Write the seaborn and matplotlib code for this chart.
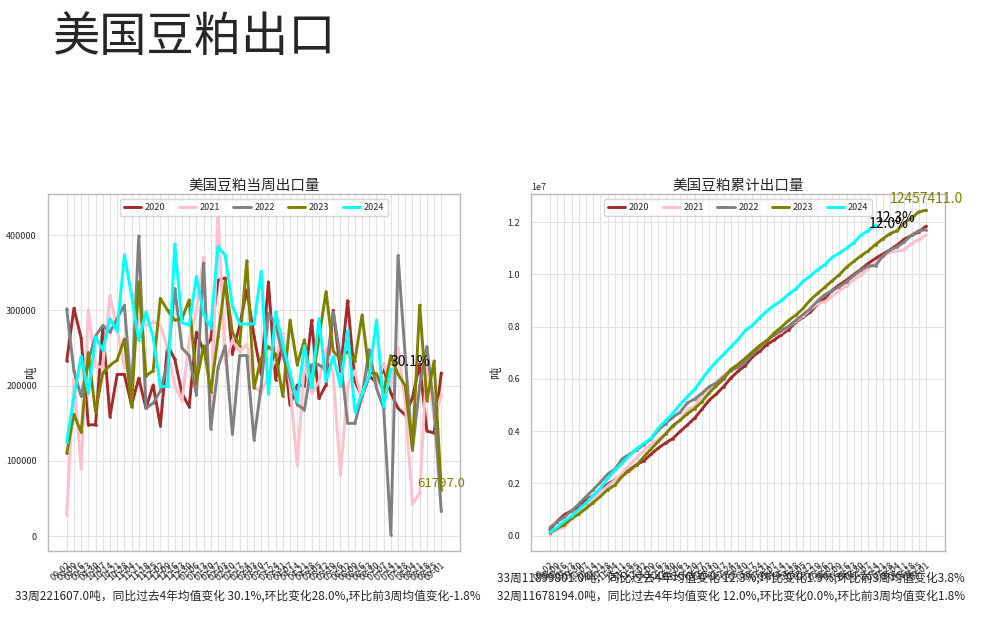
import matplotlib
matplotlib.use("Agg")
import numpy as np
import pandas as pd
import matplotlib.pyplot as plt
import seaborn as sns

# ---------------- data ----------------
week_labels = ["09-02", "09-09", "09-16", "09-23", "09-30", "10-07", "10-14", "10-21", "10-28",
               "11-04", "11-11", "11-18", "11-25", "12-02", "12-09", "12-16", "12-23", "12-30",
               "01-06", "01-13", "01-20", "01-27", "02-03", "02-10", "02-17", "02-24", "03-03",
               "03-10", "03-17", "03-24", "03-31", "04-07", "04-14", "04-21", "04-28", "05-05",
               "05-12", "05-19", "05-26", "06-02", "06-09", "06-16", "06-23", "06-30", "07-07",
               "07-14", "07-21", "07-28", "08-04", "08-11", "08-18", "08-25", "09-01"]

years = ["2020", "2021", "2022", "2023", "2024"]
colors = ["#A52A2A", "#FFC0CB", "#808080", "#808000", "#00FFFF"]

w2020 = [233000, 303000, 263000, 148000, 148000, 278000, 159000, 215000, 215000, 174000,
         210000, 170000, 201000, 147000, 254000, 235000, 190000, 172000, 271000, 246000,
         262000, 340000, 343000, 242000, 280000, 327000, 266000, 215000, 338000, 208000,
         261000, 174000, 201000, 200000, 287000, 183000, 201000, 300000, 219000, 313000,
         206000, 185000, 213000, 204000, 222000, 190000, 170000, 161000, 184000, 229000,
         140000, 137000, 217000]
w2021 = [28000, 210000, 90000, 300000, 225000, 225000, 320000, 275000, 225000, 220000,
         290000, 280000, 285000, 280000, 250000, 200000, 180000, 260000, 300000, 371000,
         143000, 433000, 230000, 260000, 245000, 255000, 200000, 190000, 215000, 235000,
         270000, 200000, 94000, 230000, 190000, 205000, 250000, 215000, 81000, 200000,
         220000, 180000, 240000, 200000, 230000, 200000, 250000, 175000, 43000, 57000,
         230000, 155000, 188000]
w2022 = [302000, 219000, 186000, 233000, 266000, 280000, 271000, 289000, 307000, 188000,
         399000, 170000, 177000, 193000, 230000, 329000, 250000, 240000, 188000, 363000,
         143000, 224000, 253000, 136000, 240000, 240000, 128000, 200000, 296000, 282000,
         240000, 210000, 175000, 168000, 228000, 228000, 221000, 298000, 237000, 150000,
         150000, 186000, 248000, 197000, 170000, 2000, 373000, 238000, 114000, 200000,
         252000, 170000, 33000]
w2023 = [110000, 162000, 138000, 244000, 165000, 217000, 227000, 234000, 262000, 172000,
         338000, 213000, 220000, 316000, 300000, 287000, 289000, 314000, 204000, 253000,
         192000, 265000, 339000, 271000, 253000, 366000, 197000, 237000, 252000, 242000,
         186000, 287000, 228000, 261000, 198000, 262000, 325000, 246000, 235000, 245614,
         233000, 294000, 217000, 216000, 192000, 240000, 215000, 200000, 116000, 307000,
         180000, 233000, 61797]
w2024 = [125000, 185000, 239000, 190000, 265000, 247000, 289000, 272000, 374000, 320000,
         260000, 298000, 264000, 199000, 199000, 388000, 284000, 280000, 345000, 295000,
         277000, 385000, 373000, 306000, 282000, 282000, 282000, 352000, 189000, 298000,
         255000, 217000, 179000, 253000, 197000, 289000, 206000, 239000, 199000, 273000,
         165000, 190000, 213000, 287000, 172000, 221607]

weekly_note = "33周221607.0吨，同比过去4年均值变化 30.1%,环比变化28.0%,环比前3周均值变化-1.8%"
cum_note = ("33周11899801.0吨，同比过去4年均值变化 12.3%,环比变化1.9%,环比前3周均值变化3.8%\n"
            "32周11678194.0吨，同比过去4年均值变化 12.0%,环比变化0.0%,环比前3周均值变化1.8%")

# ---------------- frame ----------------
series = {"2020": w2020, "2021": w2021, "2022": w2022, "2023": w2023, "2024": w2024}
rows = []
for y in years:
    for i, v in enumerate(series[y]):
        rows.append({"year": y, "idx": i, "week": week_labels[i], "weekly": v})
df = pd.DataFrame(rows)
df["cum"] = df.groupby("year")["weekly"].cumsum()

sns.set_theme(style="whitegrid")
plt.rcParams["font.family"] = ["Noto Sans CJK SC", "DejaVu Sans"]
plt.rcParams["axes.unicode_minus"] = False

W, H = 982, 626
fig = plt.figure(figsize=(W / 100, H / 100), dpi=100)
ax1 = fig.add_axes([48 / W, 1 - 551 / H, 412 / W, 357 / H])
ax2 = fig.add_axes([531 / W, 1 - 551 / H, 414 / W, 357 / H])
palette = dict(zip(years, colors))

for ax, col, title, lx in [(ax1, "weekly", "美国豆粕当周出口量", -0.025),
                           (ax2, "cum", "美国豆粕累计出口量", -0.068)]:
    sns.lineplot(data=df, x="idx", y=col, hue="year", hue_order=years, palette=palette,
                 ax=ax, linewidth=2.1, marker=".", markersize=4, markeredgewidth=0,
                 errorbar=None, legend=True)
    ax.set_xticks(range(len(week_labels)))
    ax.set_xticklabels(week_labels, rotation=40, ha="right", fontsize=6.5,
                       rotation_mode="anchor")
    ax.tick_params(axis="x", pad=1)
    ax.tick_params(axis="y", labelsize=6.5, pad=2)
    ax.set_xlabel("")
    ax.set_ylabel("吨", fontsize=9)
    ax.yaxis.set_label_coords(lx, 0.5)
    ax.set_title(title, fontsize=10.5, pad=3)
    ax.grid(True, color="#e3e3e3", linewidth=0.8)
    for s in ax.spines.values():
        s.set_color("#b8b8b8")
        s.set_linewidth(1.0)
    h, l = ax.get_legend_handles_labels()
    ax.legend(h, l, loc="upper center", ncol=5, fontsize=6.5, frameon=True,
              handlelength=1.9, columnspacing=1.5, borderaxespad=0.6, handletextpad=0.4)

ax2.yaxis.get_offset_text().set_fontsize(6.5)

# annotations
n24 = len(w2024) - 1
n23 = len(w2023) - 1
ax1.text(n24, w2024[n24], "30.1%", ha="left", va="bottom", fontsize=10, color="black")
ax1.text(n23, w2023[n23], f"{w2023[n23]:.1f}", ha="center", va="bottom", fontsize=9.5,
         color="#808000")
c24 = df[df.year == "2024"]["cum"].tolist()
c23 = df[df.year == "2023"]["cum"].tolist()
ax2.text(n24 - 1, c24[n24 - 1], "12.0%", ha="left", va="bottom", fontsize=10, color="black")
ax2.text(n24, c24[n24], "12.3%", ha="left", va="bottom", fontsize=10, color="black")
ax2.annotate(f"{c23[n23]:.1f}", (n23, c23[n23]), xytext=(0, 3), textcoords="offset points",
             ha="center", va="bottom", fontsize=10, color="#808000")

fig.text(52 / W, 1 - 38 / H, "美国豆粕出口", fontsize=34, ha="left", va="center")
fig.text(248 / W, 1 - 596 / H, weekly_note, fontsize=8.5, ha="center", va="center")
fig.text(731 / W, 1 - 587 / H, cum_note, fontsize=8.5, ha="center", va="center",
         linespacing=1.45)

fig.savefig("out.png", dpi=100)
